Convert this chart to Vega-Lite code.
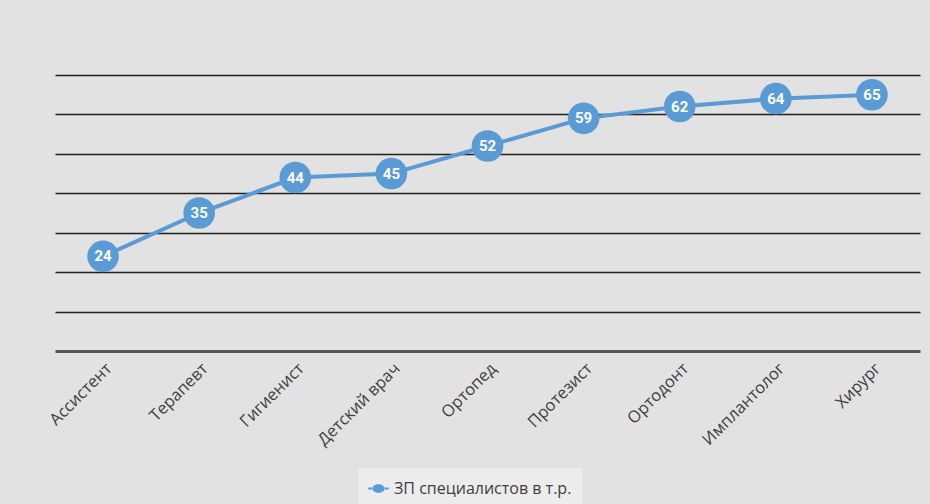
{
  "$schema": "https://vega.github.io/schema/vega-lite/v6.json",
  "width": 865,
  "height": 276,
  "autosize": {"type": "none"},
  "padding": {"left": 55, "top": 75, "right": 10, "bottom": 153},
  "background": "#e2e2e2",
  "config": {
    "view": {"stroke": null},
    "font": "Open Sans"
  },
  "data": {
    "values": [
      {"role": "Ассистент", "value": 24, "series": "ЗП специалистов в т.р."},
      {"role": "Терапевт", "value": 35, "series": "ЗП специалистов в т.р."},
      {"role": "Гигиенист", "value": 44, "series": "ЗП специалистов в т.р."},
      {"role": "Детский врач", "value": 45, "series": "ЗП специалистов в т.р."},
      {"role": "Ортопед", "value": 52, "series": "ЗП специалистов в т.р."},
      {"role": "Протезист", "value": 59, "series": "ЗП специалистов в т.р."},
      {"role": "Ортодонт", "value": 62, "series": "ЗП специалистов в т.р."},
      {"role": "Имплантолог", "value": 64, "series": "ЗП специалистов в т.р."},
      {"role": "Хирург", "value": 65, "series": "ЗП специалистов в т.р."}
    ]
  },
  "encoding": {
    "x": {
      "field": "role",
      "type": "nominal",
      "sort": null,
      "scale": {"type": "point", "padding": 0.5},
      "axis": {
        "title": null,
        "labelAngle": -45,
        "labelAlign": "right",
        "labelFontSize": 16.5,
        "labelColor": "#404040",
        "labelPadding": 9,
        "ticks": false,
        "domain": true,
        "domainColor": "#555555",
        "domainWidth": 3,
        "grid": false
      }
    },
    "y": {
      "field": "value",
      "type": "quantitative",
      "scale": {"domain": [0, 70], "nice": false},
      "axis": {
        "title": null,
        "labels": false,
        "ticks": false,
        "domain": false,
        "grid": true,
        "values": [10, 20, 30, 40, 50, 60, 70],
        "gridColor": "#1f1f1f",
        "gridWidth": 1.6
      }
    }
  },
  "layer": [
    {
      "mark": {"type": "line", "color": "#5b9bd5", "strokeWidth": 4}
    },
    {
      "mark": {"type": "circle", "size": 1000, "opacity": 1},
      "encoding": {
        "color": {
          "field": "series",
          "type": "nominal",
          "scale": {"range": ["#5b9bd5"]},
          "legend": {
            "title": null,
            "orient": "none",
            "legendX": 303,
            "legendY": 393,
            "padding": 10,
            "fillColor": "#ececec",
            "labelFontSize": 16,
            "labelLimit": 0,
            "labelColor": "#404040",
            "labelFont": "Open Sans",
            "symbolType": "M-1,-0.1H-0.55V0.1H-1Z M0.55,-0.1H1V0.1H0.55Z M-0.6,0A0.6,0.42 0 1,0 0.6,0A0.6,0.42 0 1,0 -0.6,0Z",
            "symbolSize": 420,
            "symbolFillColor": "#5b9bd5",
            "symbolStrokeColor": "#5b9bd5",
            "symbolStrokeWidth": 0,
            "symbolOpacity": 1,
            "labelOffset": 5
          }
        }
      }
    },
    {
      "mark": {
        "type": "text",
        "color": "white",
        "fontWeight": "bold",
        "fontSize": 15,
        "font": "Liberation Sans Narrow, Roboto, sans-serif",
        "baseline": "middle",
        "align": "center"
      },
      "encoding": {"text": {"field": "value", "type": "quantitative"}}
    }
  ]
}
